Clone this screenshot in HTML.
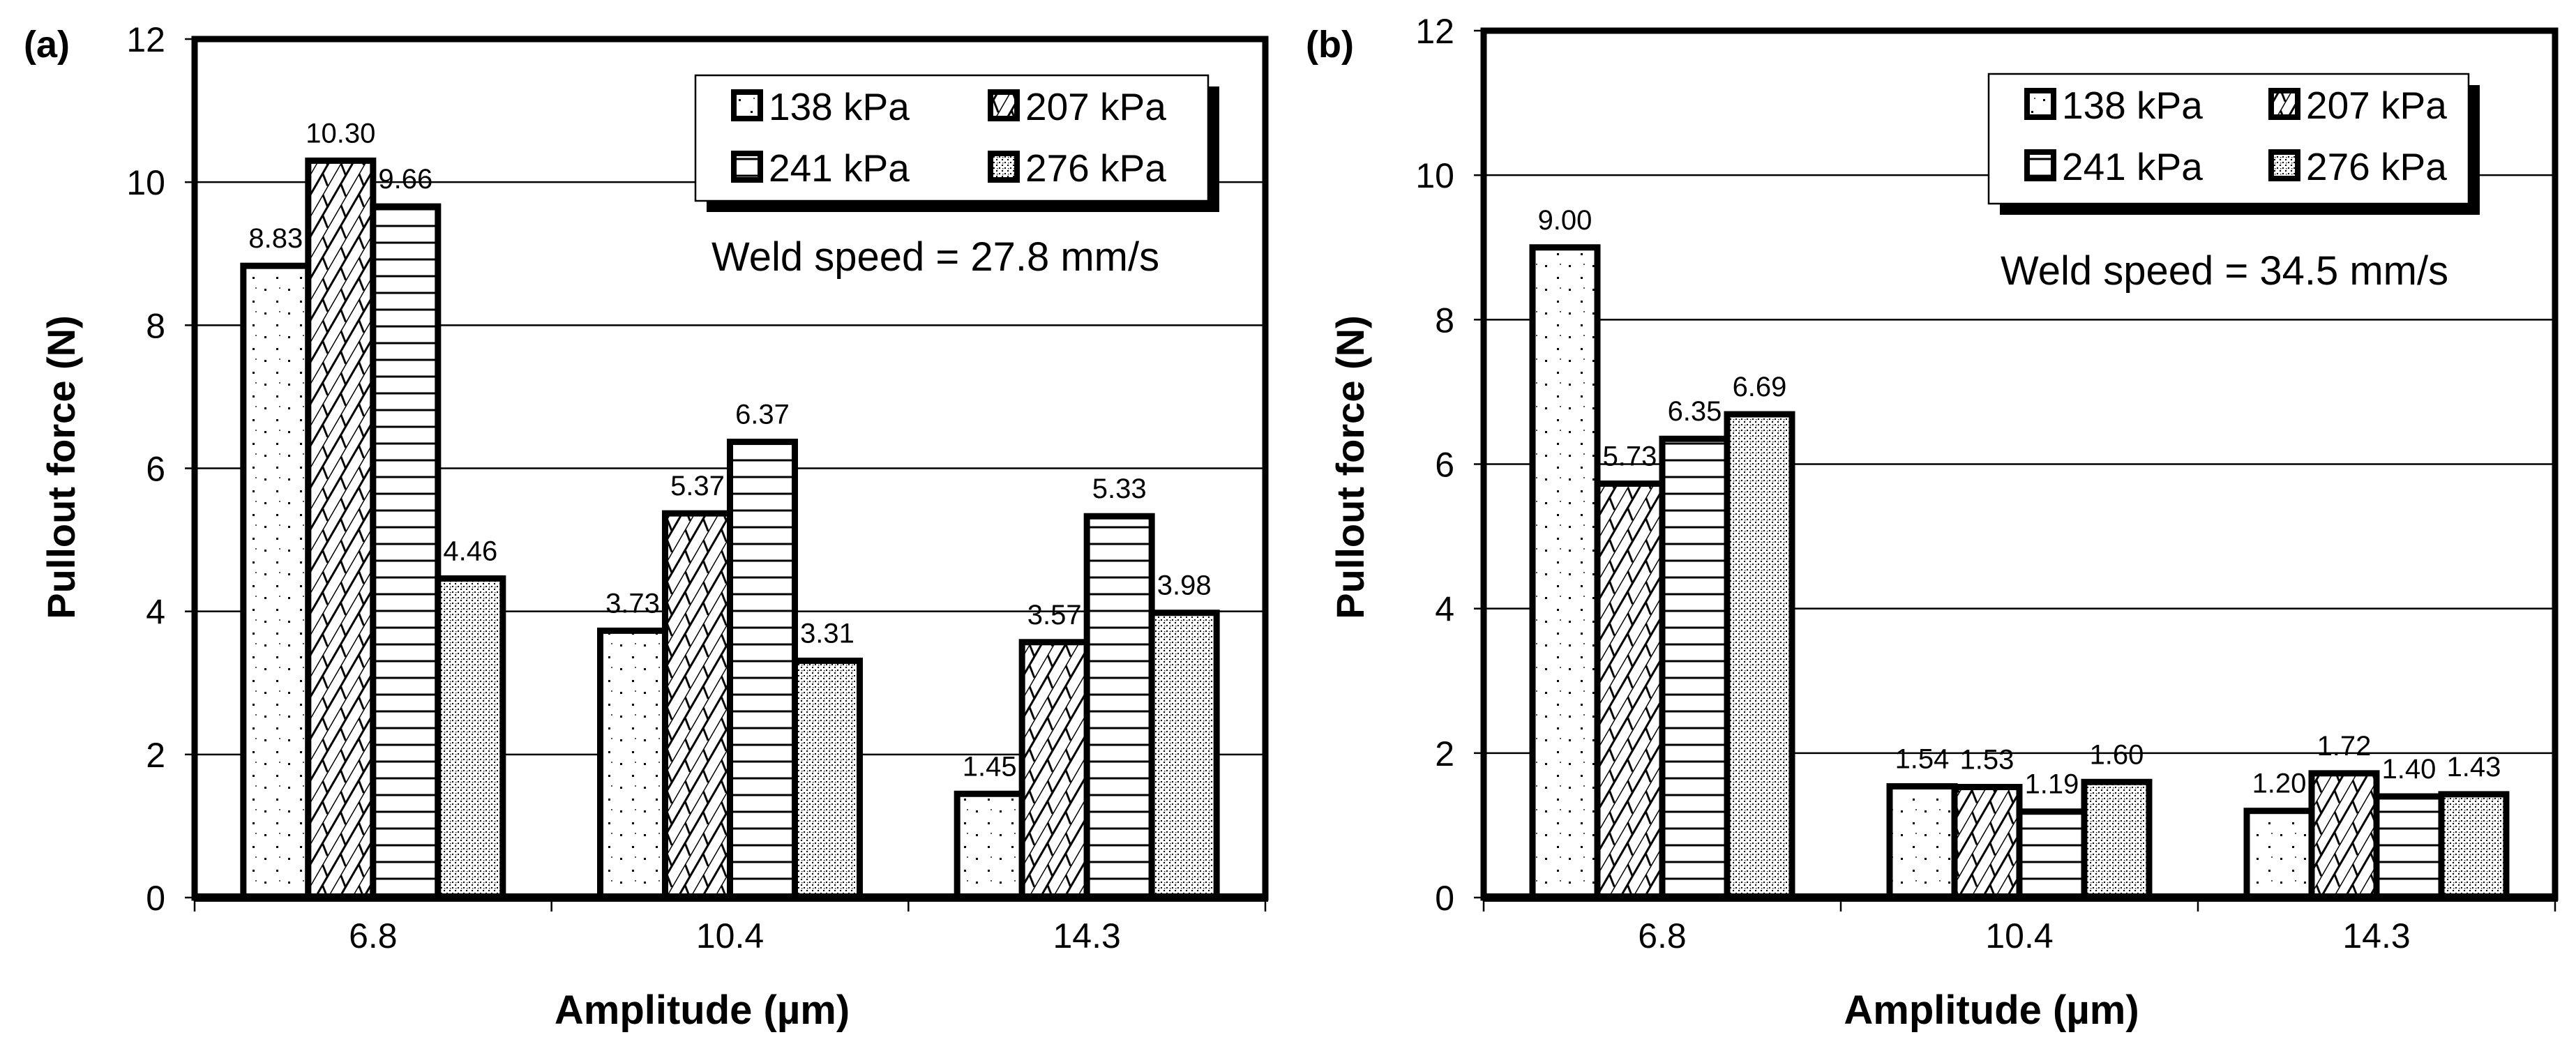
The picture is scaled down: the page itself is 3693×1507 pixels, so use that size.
<!DOCTYPE html>
<html><head><meta charset="utf-8">
<style>
html,body{margin:0;padding:0;background:#fff;}
svg{display:block;font-family:"Liberation Sans",Arial,sans-serif;}
</style></head>
<body>
<svg id="fig" width="3693" height="1507" viewBox="0 0 3693 1507" xmlns="http://www.w3.org/2000/svg">
<defs>
  <pattern id="p138" width="34" height="34" patternUnits="userSpaceOnUse">
    <rect width="34" height="34" fill="#fff"/>
    <rect x="5" y="6" width="3" height="3" fill="#000"/>
    <rect x="22" y="23" width="3" height="3" fill="#000"/>
    <rect x="26" y="4" width="2" height="2" fill="#555"/>
  </pattern>
  <pattern id="p207" width="30" height="52" patternUnits="userSpaceOnUse" patternTransform="rotate(30)">
    <rect width="30" height="52" fill="#fff"/>
    <line x1="0" y1="0" x2="0" y2="52" stroke="#000" stroke-width="3"/>
    <line x1="15" y1="0" x2="15" y2="52" stroke="#000" stroke-width="3"/>
    <line x1="0" y1="10" x2="15" y2="22" stroke="#000" stroke-width="3"/>
    <line x1="15" y1="36" x2="30" y2="48" stroke="#000" stroke-width="3"/>
  </pattern>
  <pattern id="p241" width="24" height="24" patternUnits="userSpaceOnUse">
    <rect width="24" height="24" fill="#fff"/>
    <line x1="0" y1="12" x2="24" y2="12" stroke="#000" stroke-width="3"/>
  </pattern>
  <pattern id="p276" width="8" height="8" patternUnits="userSpaceOnUse">
    <rect width="8" height="8" fill="#fff"/>
    <rect x="0" y="0" width="2" height="2" fill="#000"/>
    <rect x="4" y="4" width="2" height="2" fill="#000"/>
    <rect x="5" y="1" width="1.5" height="1.5" fill="#333"/>
  </pattern>
</defs>
</svg>
<script>
const categories = ["6.8", "10.4", "14.3"];
const seriesNames = ["138 kPa", "207 kPa", "241 kPa", "276 kPa"];
const valuesA138 = [8.83, 3.73, 1.45];
const valuesA207 = [10.30, 5.37, 3.57];
const valuesA241 = [9.66, 6.37, 5.33];
const valuesA276 = [4.46, 3.31, 3.98];
const valuesB138 = [9.00, 1.54, 1.20];
const valuesB207 = [5.73, 1.53, 1.72];
const valuesB241 = [6.35, 1.19, 1.40];
const valuesB276 = [6.69, 1.60, 1.43];
const yTicks = [0, 2, 4, 6, 8, 10, 12];
const weldA = "Weld speed = 27.8 mm/s";
const weldB = "Weld speed = 34.5 mm/s";

const NS = "http://www.w3.org/2000/svg";
const svg = document.getElementById('fig');
const fills = ["url(#p138)", "url(#p207)", "url(#p241)", "url(#p276)"];

function mk(tag, attrs, parent) {
  const e = document.createElementNS(NS, tag);
  for (const k in attrs) e.setAttribute(k, attrs[k]);
  (parent || svg).appendChild(e);
  return e;
}

function drawChart(c) {
  const g = mk('g', {});
  
  
  const yMax = 12;
  const yS = v => c.bottom - (v / yMax) * (c.bottom - c.top);
  const catW = (c.right - c.left) / categories.length;
  const barW = 93;
  const groupPad = (catW - barW * 4) / 2;
  yTicks.forEach(t => {
    if (t > 0 && t < yMax) {
      const gl = mk('line', {x1: c.left, x2: c.right, y1: yS(t), y2: yS(t), stroke: '#000', 'stroke-width': 2.5}, g);
      
      
    }
    const tk = mk('line', {x1: c.left - 14, x2: c.left, y1: yS(t), y2: yS(t), stroke: '#000', 'stroke-width': 2.5}, g);
    
    
    const tl = mk('text', {x: c.left - 42, y: yS(t) + 18, 'text-anchor': 'end', 'font-size': 50}, g);
    tl.textContent = t;
    
    
  });
  c.series.forEach((vals, si) => {
    vals.forEach((v, ci) => {
      const x = c.left + ci * catW + groupPad + si * barW;
      const r = mk('rect', {x: x, y: yS(v), width: barW, height: c.bottom - yS(v), fill: fills[si], stroke: '#000', 'stroke-width': 9}, g);
      
      
      const lb = mk('text', {x: x + barW / 2, y: yS(v) - 26, 'text-anchor': 'middle', 'font-size': 40}, g);
      lb.textContent = v.toFixed(2);
      
      
    });
  });
  const fr = mk('rect', {x: c.left, y: c.top, width: c.right - c.left, height: c.bottom - c.top, fill: 'none', stroke: '#000', 'stroke-width': 9}, g);
  
  
  const ax = mk('line', {x1: c.left, x2: c.right + 4, y1: c.bottom, y2: c.bottom, stroke: '#000', 'stroke-width': 12}, g);
  
  
  for (let i = 0; i <= categories.length; i++) {
    const xt = c.left + i * catW;
    const t = mk('line', {x1: xt, x2: xt, y1: c.bottom, y2: c.bottom + 20, stroke: '#000', 'stroke-width': 2.5}, g);
    
    
  }
  categories.forEach((cat, ci) => {
    const t = mk('text', {x: c.left + (ci + 0.5) * catW, y: c.bottom + 72, 'text-anchor': 'middle', 'font-size': 50}, g);
    t.textContent = cat;
    
    
  });
  const xt = mk('text', {x: (c.left + c.right) / 2 - 40, y: 1468, 'text-anchor': 'middle', 'font-size': 58, 'font-weight': 'bold'}, g);
  xt.textContent = 'Amplitude (µm)';
  
  
  const yt = mk('text', {x: 0, y: 0, 'text-anchor': 'middle', 'font-size': 56, 'font-weight': 'bold', transform: 'translate(' + (c.left - 172) + ',670) rotate(-90)'}, g);
  yt.textContent = 'Pullout force (N)';
  
  
  const pl = mk('text', {x: c.panelX, y: 82, 'font-size': 54, 'font-weight': 'bold'}, g);
  pl.textContent = c.panel;
  
  
  const L = c.legend;
  const sh = mk('rect', {x: L.x + 16, y: L.y + 16, width: L.w, height: L.h, fill: '#000'}, g);
  
  
  const lbx = mk('rect', {x: L.x, y: L.y, width: L.w, height: L.h, fill: '#fff', stroke: '#000', 'stroke-width': 2.5}, g);
  
  
  seriesNames.forEach((nm, si) => {
    const col = si % 2, row = Math.floor(si / 2);
    const ex = L.x + 55 + col * c.legendColW;
    const base = L.y + 64 + row * 88;
    const sw = mk('rect', {x: ex, y: base - 40, width: 38, height: 38, fill: fills[si], stroke: '#000', 'stroke-width': 8}, g);
    
    
    const lt = mk('text', {x: ex + 50, y: base, 'font-size': 55}, g);
    lt.textContent = nm;
    
    
  });
  const ws = mk('text', {x: c.weldX, y: c.weldY, 'font-size': 58}, g);
  ws.textContent = c.weld;
  
  
}

drawChart({id: 'a', panel: '(a)', panelX: 34, left: 279, right: 1814, top: 56, bottom: 1287,
  series: [valuesA138, valuesA207, valuesA241, valuesA276],
  legend: {x: 997, y: 108, w: 735, h: 180}, legendColW: 368, weld: weldA, weldX: 1020, weldY: 388});
drawChart({id: 'b', panel: '(b)', panelX: 1872, left: 2127, right: 3663, top: 44, bottom: 1287,
  series: [valuesB138, valuesB207, valuesB241, valuesB276],
  legend: {x: 2851, y: 106, w: 688, h: 186}, legendColW: 350, weld: weldB, weldX: 2868, weldY: 408});
</script>
</body></html>
